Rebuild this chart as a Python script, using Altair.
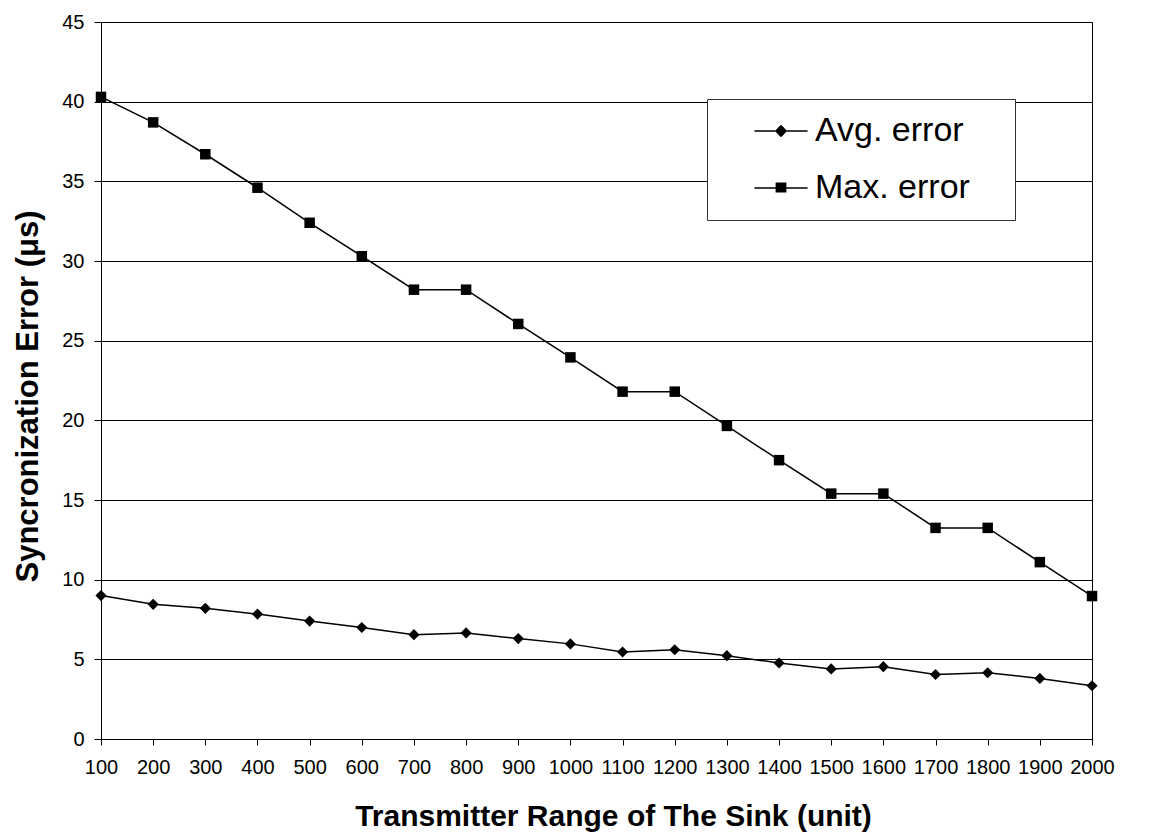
import altair as alt
import pandas as pd

ranges = [100, 200, 300, 400, 500, 600, 700, 800, 900, 1000,
          1100, 1200, 1300, 1400, 1500, 1600, 1700, 1800, 1900, 2000]
avg_error = [9.0, 8.45, 8.2, 7.84, 7.4, 7.0, 6.55, 6.66, 6.3, 5.97,
             5.46, 5.6, 5.23, 4.77, 4.4, 4.54, 4.05, 4.16, 3.8, 3.34]
max_error = [40.3, 38.7, 36.7, 34.6, 32.4, 30.3, 28.2, 28.2, 26.05, 23.95,
             21.8, 21.8, 19.65, 17.5, 15.4, 15.4, 13.25, 13.25, 11.1, 8.97]
series_names = ["Avg. error", "Max. error"]
y_ticks = [0, 5, 10, 15, 20, 25, 30, 35, 40, 45]

rows = []
for r, a in zip(ranges, avg_error):
    rows.append({"range": r, "error": a, "series": series_names[0]})
for r, m in zip(ranges, max_error):
    rows.append({"range": r, "error": m, "series": series_names[1]})
df = pd.DataFrame(rows)

FONT = "Liberation Sans"


# legend symbols: a line with a filled marker (filled by dense strokes)
def hatch_diamond(d, step=0.07):
    parts = []
    n = int(d / step)
    for k in range(-n, n + 1):
        yy = k * step
        hl = max(d - abs(yy), 0.02)
        parts.append(f"M{-hl:.3f},{yy:.3f}L{hl:.3f},{yy:.3f}")
    return "".join(parts)


def hatch_square(h, step=0.07):
    parts = []
    yy = -h + 0.05
    while yy <= h - 0.05 + 1e-9:
        parts.append(f"M{-h:.3f},{yy:.3f}L{h:.3f},{yy:.3f}")
        yy += step
    return "".join(parts)


line_part = "M-1.77,0L1.77,0"
pad_part = "M14.4,0"
legend_paths = [
    line_part + hatch_diamond(0.4) + pad_part,
    line_part + hatch_square(0.36) + pad_part,
]

x_enc = alt.X("range:Q",
              scale=alt.Scale(domain=[100, 2000], nice=False, zero=False),
              axis=alt.Axis(values=ranges, title="Transmitter Range of The Sink (unit)",
                            format="d", grid=False, tickSize=6, labelPadding=12,
                            labelFontSize=20, labelFlush=False, titleFontSize=30,
                            titleFontWeight="bold", titlePadding=24, titleX=512,
                            labelOverlap=False))
y_enc = alt.Y("error:Q",
              scale=alt.Scale(domain=[0, 45], nice=False),
              axis=alt.Axis(values=y_ticks, title="Syncronization Error (\u03bcs)",
                            grid=True, tickSize=7, labelPadding=10, labelFontSize=20,
                            titleFontSize=31, titleFontWeight="bold", titlePadding=17,
                            titleY=374))

base = alt.Chart(df)

lines = base.mark_line(color="black", strokeWidth=1.5).encode(
    x=x_enc, y=y_enc, detail="series:N")

diamonds = base.transform_filter(alt.datum.series == series_names[0]).mark_point(
    shape="diamond", filled=True, color="black", size=125, opacity=1
).encode(x=x_enc, y=y_enc)

squares = base.transform_filter(alt.datum.series == series_names[1]).mark_point(
    shape="square", filled=True, color="black", size=110, opacity=1
).encode(x=x_enc, y=y_enc)

legend_layer = base.transform_filter("false").mark_point(
    filled=False, color="black", strokeWidth=1.5, opacity=1
).encode(
    x=x_enc, y=y_enc,
    shape=alt.Shape("series:N",
                    scale=alt.Scale(domain=series_names, range=legend_paths),
                    legend=alt.Legend(title=None, orient="none", legendX=606, legendY=77,
                                      padding=15, strokeColor="#333", fillColor="white",
                                      labelFontSize=34, labelFont=FONT, labelColor="black",
                                      symbolSize=900, symbolOffset=42, labelOffset=17,
                                      rowPadding=23, symbolStrokeWidth=1.5,
                                      symbolStrokeColor="black", symbolOpacity=1))
)

chart = alt.layer(lines, diamonds, squares, legend_layer).properties(
    width=991, height=717,
    padding={"left": 93, "top": 14, "right": 56, "bottom": 96},
    autosize=alt.AutoSizeParams(type="none"),
    background="white",
).configure_view(
    stroke="black", strokeWidth=1
).configure_axis(
    domainColor="black", domainWidth=1, tickColor="black", tickWidth=1,
    gridColor="black", gridWidth=1, gridOpacity=1, labelColor="black",
    titleColor="black", labelFont=FONT, titleFont=FONT
)

chart.save("out.html", embed_options={"renderer": "svg", "actions": False})
